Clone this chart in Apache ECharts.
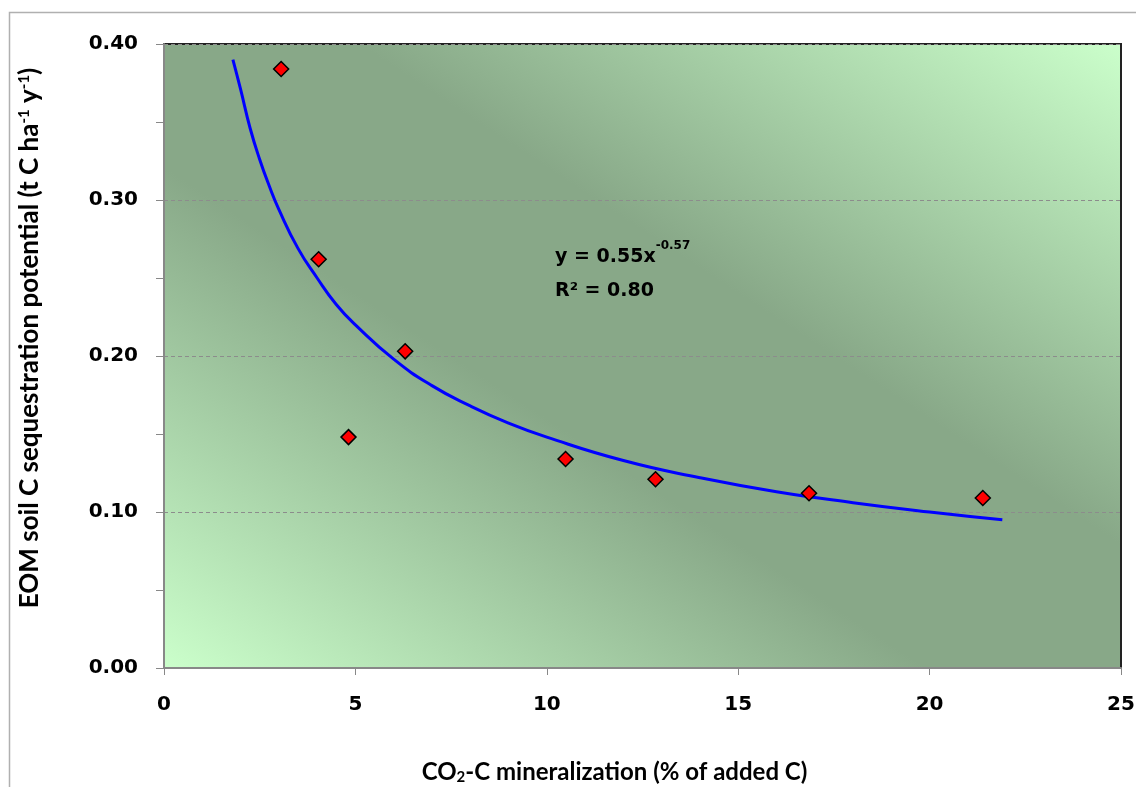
<!DOCTYPE html>
<html>
<head>
<meta charset="utf-8">
<title>EOM soil C sequestration</title>
<script src="https://cdn.jsdelivr.net/npm/echarts@6/dist/echarts.min.js"></script>
<style>
html,body{margin:0;padding:0;background:#fff;}
#chart{width:1136px;height:787px;}
</style>
</head>
<body>
<div id="chart"></div>
<script>
// measured points
var mineralization = [3.06, 4.04, 4.82, 6.30, 10.49, 12.84, 16.85, 21.39];
var sequestration = [0.384, 0.262, 0.148, 0.203, 0.134, 0.121, 0.112, 0.109];
// power trend line
var trendX = [1.8, 2.0, 2.25, 2.5, 2.75, 3, 3.5, 4, 4.5, 5, 6, 7, 8, 9, 10, 12, 14, 16, 18, 20, 21.9];
var trendY = [0.390, 0.371, 0.346, 0.326, 0.309, 0.294, 0.269, 0.250, 0.233, 0.220, 0.198, 0.181, 0.168, 0.157, 0.148, 0.133, 0.122, 0.113, 0.106, 0.100, 0.095];
var xTicks = [0, 5, 10, 15, 20, 25];
var yTicks = [0, 0.1, 0.2, 0.3, 0.4];

var labelFont = '"DejaVu Sans", Verdana, sans-serif';
var titleFont = 'Lato, "Open Sans", sans-serif';

var points = mineralization.map(function (x, i) { return [x, sequestration[i]]; });
var trend = trendX.map(function (x, i) { return [x, trendY[i]]; });

var myChart = echarts.init(document.getElementById('chart'));
var option = {
    animation: false,
    backgroundColor: '#fff',
    grid: {
        left: 164, right: 15, top: 44, bottom: 119,
        outerBoundsMode: 'none',
        containLabel: false,
        show: true,
        borderColor: '#222',
        borderWidth: 2,
        backgroundColor: new echarts.graphic.LinearGradient(0.2, 1.2, 0.8, -0.2, [
            { offset: 0, color: '#cbffcb' },
            { offset: 0.4, color: '#88a888' },
            { offset: 0.6, color: '#88a888' },
            { offset: 1, color: '#cbffcb' }
        ])
    },
    xAxis: {
        type: 'value',
        min: xTicks[0],
        max: xTicks[xTicks.length - 1],
        interval: xTicks[1] - xTicks[0],
        name: '{t|CO}{sub|2}{t|-C mineralization (% of added C)}',
        nameLocation: 'middle',
        nameGap: 92,
        nameTextStyle: {
            padding: [0, 56, 0, 0],
            rich: {
                t: { fontFamily: titleFont, fontWeight: 'bold', fontSize: 24, color: '#000' },
                sub: { fontFamily: titleFont, fontWeight: 'bold', fontSize: 15, color: '#000', verticalAlign: 'bottom', padding: [10, 0, 0, 0] }
            }
        },
        axisLine: { onZero: false, lineStyle: { color: '#888', width: 2 } },
        axisTick: { show: true, length: 7, lineStyle: { color: '#888' } },
        axisLabel: { fontFamily: labelFont, fontWeight: 'bold', fontSize: 20, color: '#000', margin: 27 },
        splitLine: { show: false }
    },
    yAxis: {
        type: 'value',
        min: yTicks[0],
        max: yTicks[yTicks.length - 1],
        interval: yTicks[1] - yTicks[0],
        name: '{t|EOM soil C sequestration potential (t C ha}{s|-1}{t| y}{s|-1}{t|)}',
        nameLocation: 'middle',
        nameRotate: 90,
        nameGap: 121,
        nameTextStyle: {
            padding: [0, 0, 0, 36],
            rich: {
                t: { fontFamily: titleFont, fontWeight: 'bold', fontSize: 26, color: '#000' },
                s: { fontFamily: titleFont, fontWeight: 'bold', fontSize: 15, color: '#000', verticalAlign: 'top', padding: [0, 0, 9, 0] }
            }
        },
        axisLine: { onZero: false, lineStyle: { color: '#888', width: 2 } },
        axisTick: { show: true, length: 8, lineStyle: { color: '#888' } },
        minorTick: { show: true, splitNumber: 2, length: 8, lineStyle: { color: '#888' } },
        axisLabel: {
            fontFamily: labelFont, fontWeight: 'bold', fontSize: 20, color: '#000', margin: 26,
            formatter: function (v) { return v.toFixed(2); }
        },
        splitLine: { show: true, lineStyle: { color: '#8c8c8c', type: [4, 3], width: 1 } }
    },
    graphic: [
        {
            type: 'rect', z: -10, silent: true,
            shape: { x: 9.5, y: 12.5, width: 1200, height: 900 },
            style: { fill: 'none', stroke: '#b0b0b0', lineWidth: 1.5 }
        },
        {
            type: 'text', left: 555, top: 240, z: 100,
            style: {
                text: '{b|y = 0.55x}{s|-0.57}\n{b|R² = 0.80}',
                rich: {
                    b: { fontFamily: labelFont, fontWeight: 'bold', fontSize: 19, fill: '#000', lineHeight: 34 },
                    s: { fontFamily: labelFont, fontWeight: 'bold', fontSize: 12, fill: '#000', verticalAlign: 'top', lineHeight: 22 }
                }
            }
        }
    ],
    series: [
        {
            type: 'line',
            data: trend,
            smooth: true,
            showSymbol: false,
            lineStyle: { color: '#0000ff', width: 3 },
            z: 2
        },
        {
            type: 'scatter',
            data: points,
            symbol: 'diamond',
            symbolSize: 15,
            itemStyle: { color: '#ff0000', borderColor: '#000', borderWidth: 1.5, opacity: 1 },
            z: 3
        }
    ]
};
myChart.setOption(option);
</script>
</body>
</html>
